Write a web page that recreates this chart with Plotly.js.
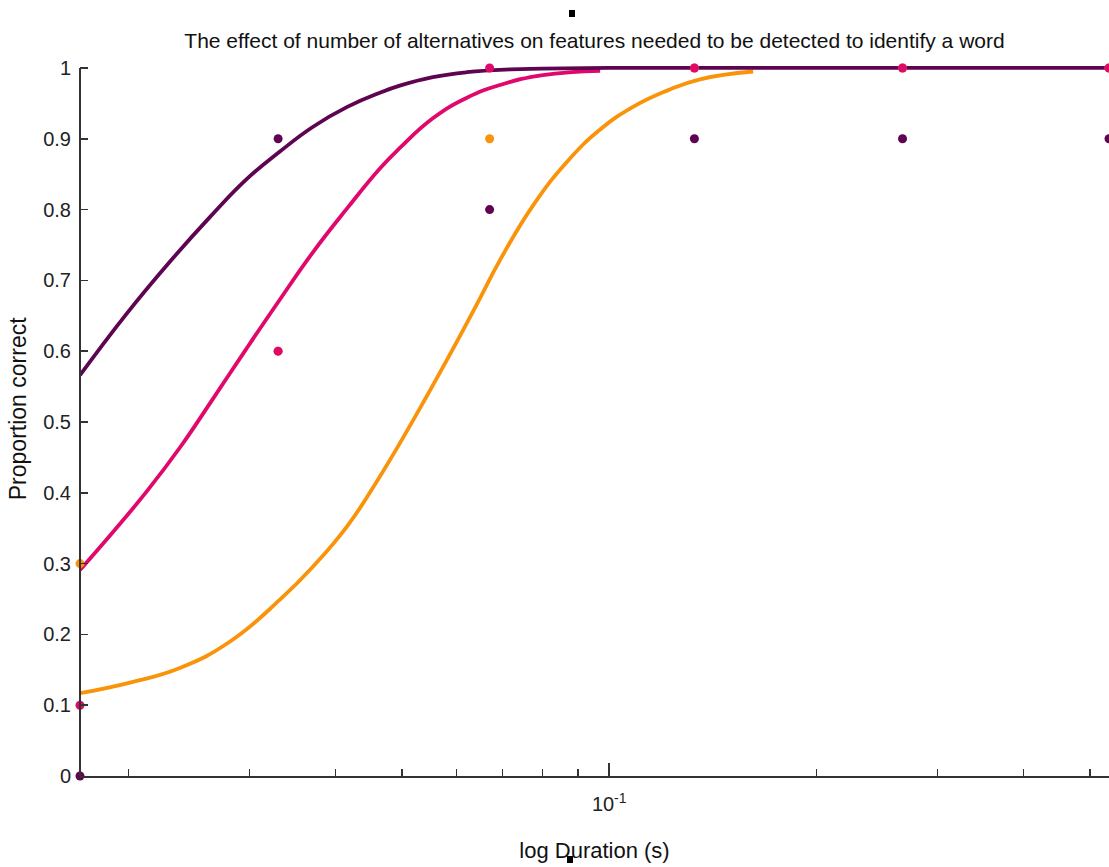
<!DOCTYPE html>
<html>
<head>
<meta charset="utf-8">
<script src="https://cdn.plot.ly/plotly-3.0.1.min.js"></script>
<style>html,body{margin:0;padding:0;background:#fff;}#chart{width:1109px;height:867px;}</style>
</head>
<body>
<div id="chart"></div>
<script>
// Measured durations (s) for the data points
var durations = [0.017, 0.033, 0.067, 0.133, 0.267, 0.533];
// Observed proportion correct per condition
var obsPurple = [0, 0.9, 0.8, 0.9, 0.9, 0.9];
var obsPink   = [0.1, 0.6, 1, 1, 1, 1];
var obsOrange = [0.3, 0.6, 0.9, 1, 1, 1];

// Fitted curves
var fitPurpleX = [0.0170, 0.0198, 0.0230, 0.0263, 0.0297, 0.0332, 0.0371, 0.0416, 0.0464, 0.0496, 0.0554, 0.0621, 0.0718, 0.0800, 0.1000, 0.2000, 0.5331];
var fitPurpleY = [0.566, 0.651, 0.727, 0.790, 0.843, 0.882, 0.917, 0.945, 0.965, 0.975, 0.987, 0.994, 0.998, 0.999, 1.0, 1.0, 1.0];

var fitPinkX = [0.0170, 0.0190, 0.0213, 0.0238, 0.0265, 0.0297, 0.0332, 0.0371, 0.0416, 0.0464, 0.0496, 0.0554, 0.0621, 0.0694, 0.0801, 0.0970];
var fitPinkY = [0.291, 0.345, 0.403, 0.465, 0.532, 0.604, 0.673, 0.740, 0.802, 0.858, 0.887, 0.929, 0.958, 0.976, 0.990, 0.996];

var fitOrangeX = [0.0170, 0.0201, 0.0238, 0.0281, 0.0332, 0.0371, 0.0416, 0.0464, 0.0519, 0.0581, 0.0649, 0.0694, 0.0775, 0.0869, 0.0970, 0.1083, 0.1214, 0.1355, 0.1619];
var fitOrangeY = [0.117, 0.132, 0.153, 0.190, 0.249, 0.296, 0.353, 0.423, 0.503, 0.588, 0.675, 0.729, 0.806, 0.868, 0.913, 0.945, 0.968, 0.984, 0.995];

// Axis ticks
var majorTicks = [0.1];
var majorTickText = ['10<sup>-1</sup>'];
var minorTicks = [0.02, 0.03, 0.04, 0.05, 0.06, 0.07, 0.08, 0.09, 0.2, 0.3, 0.4, 0.5];
var yTicks = [0, 0.1, 0.2, 0.3, 0.4, 0.5, 0.6, 0.7, 0.8, 0.9, 1];

var titleText = 'The effect of number of alternatives on features needed to be detected to identify a word';
var xTitle = 'log Duration (s)';
var yTitle = 'Proportion correct';

var cPurple = '#5e0450';
var cPink = '#e0086b';
var cOrange = '#f9930a';
var FONT = '"Liberation Sans", Arial, sans-serif';
var axisColor = '#333333';

function fitTrace(x, y, c) {
  return {x: x, y: y, type: 'scatter', mode: 'lines', line: {color: c, width: 3.8, shape: 'spline', smoothing: 1.3},
          showlegend: false, hoverinfo: 'skip', cliponaxis: false};
}
function ptTrace(y, c) {
  return {x: durations, y: y, type: 'scatter', mode: 'markers', marker: {color: c, size: 9},
          showlegend: false, cliponaxis: false};
}

var data = [
  fitTrace(fitOrangeX, fitOrangeY, cOrange),
  fitTrace(fitPinkX, fitPinkY, cPink),
  fitTrace(fitPurpleX, fitPurpleY, cPurple),
  ptTrace(obsOrange, cOrange),
  ptTrace(obsPurple, cPurple),
  ptTrace(obsPink, cPink)
];

// plot area: top edge 4px above the "1" tick so lines at 1 are not clipped
var yTop = 1.0056;

var layout = {
  width: 1109, height: 867,
  margin: {l: 80, r: 0, t: 64, b: 91, pad: 0},
  paper_bgcolor: '#ffffff', plot_bgcolor: '#ffffff',
  font: {family: FONT, color: '#222222', size: 20},
  title: {text: titleText, font: {family: FONT, size: 21, color: '#111111'},
          xref: 'paper', x: 0.5, xanchor: 'center', yref: 'container', y: 1 - 41/867, yanchor: 'middle'},
  xaxis: {
    type: 'log',
    range: [Math.log10(durations[0]), Math.log10(durations[durations.length - 1])],
    showgrid: false, zeroline: false,
    showline: true, linecolor: axisColor, linewidth: 2,
    ticks: 'inside', ticklen: 13, tickwidth: 1.5, tickcolor: axisColor,
    tickmode: 'array', tickvals: majorTicks, ticktext: majorTickText,
    tickfont: {family: FONT, size: 20, color: '#222222'},
    ticklabelstandoff: 9,
    minor: {tickmode: 'array', tickvals: minorTicks, ticks: 'inside', ticklen: 7, tickwidth: 1.5, tickcolor: axisColor, showgrid: false},
    title: {text: xTitle, font: {family: FONT, size: 22, color: '#111111'}, standoff: 29},
    fixedrange: true
  },
  yaxis: {
    range: [0, yTop],
    showgrid: false, zeroline: false,
    showline: false,
    ticks: 'inside', ticklen: 8, tickwidth: 1.5, tickcolor: axisColor,
    tickmode: 'array', tickvals: yTicks,
    tickfont: {family: FONT, size: 20, color: '#222222'},
    ticklabelstandoff: 8,
    fixedrange: true
  },
  annotations: [
    {text: yTitle, xref: 'paper', yref: 'y', x: 0, y: 0.518, xanchor: 'center', yanchor: 'middle',
     xshift: -62, textangle: -90, showarrow: false, font: {family: FONT, size: 23, color: '#111111'}}
  ],
  shapes: [
    {type: 'line', xref: 'paper', yref: 'y', x0: 0, x1: 0, y0: 0, y1: 1, line: {color: axisColor, width: 2}},
    {type: 'rect', xref: 'paper', yref: 'paper', x0: (569-80)/1029, x1: (575-80)/1029, y0: (776-17)/712, y1: (776-10)/712, fillcolor: '#000', line: {width: 0}},
    {type: 'rect', xref: 'paper', yref: 'paper', x0: (567-80)/1029, x1: (573-80)/1029, y0: (776-863)/712, y1: (776-856)/712, fillcolor: '#000', line: {width: 0}}
  ]
};

Plotly.newPlot('chart', data, layout, {displayModeBar: false, staticPlot: true});
</script>
</body>
</html>
